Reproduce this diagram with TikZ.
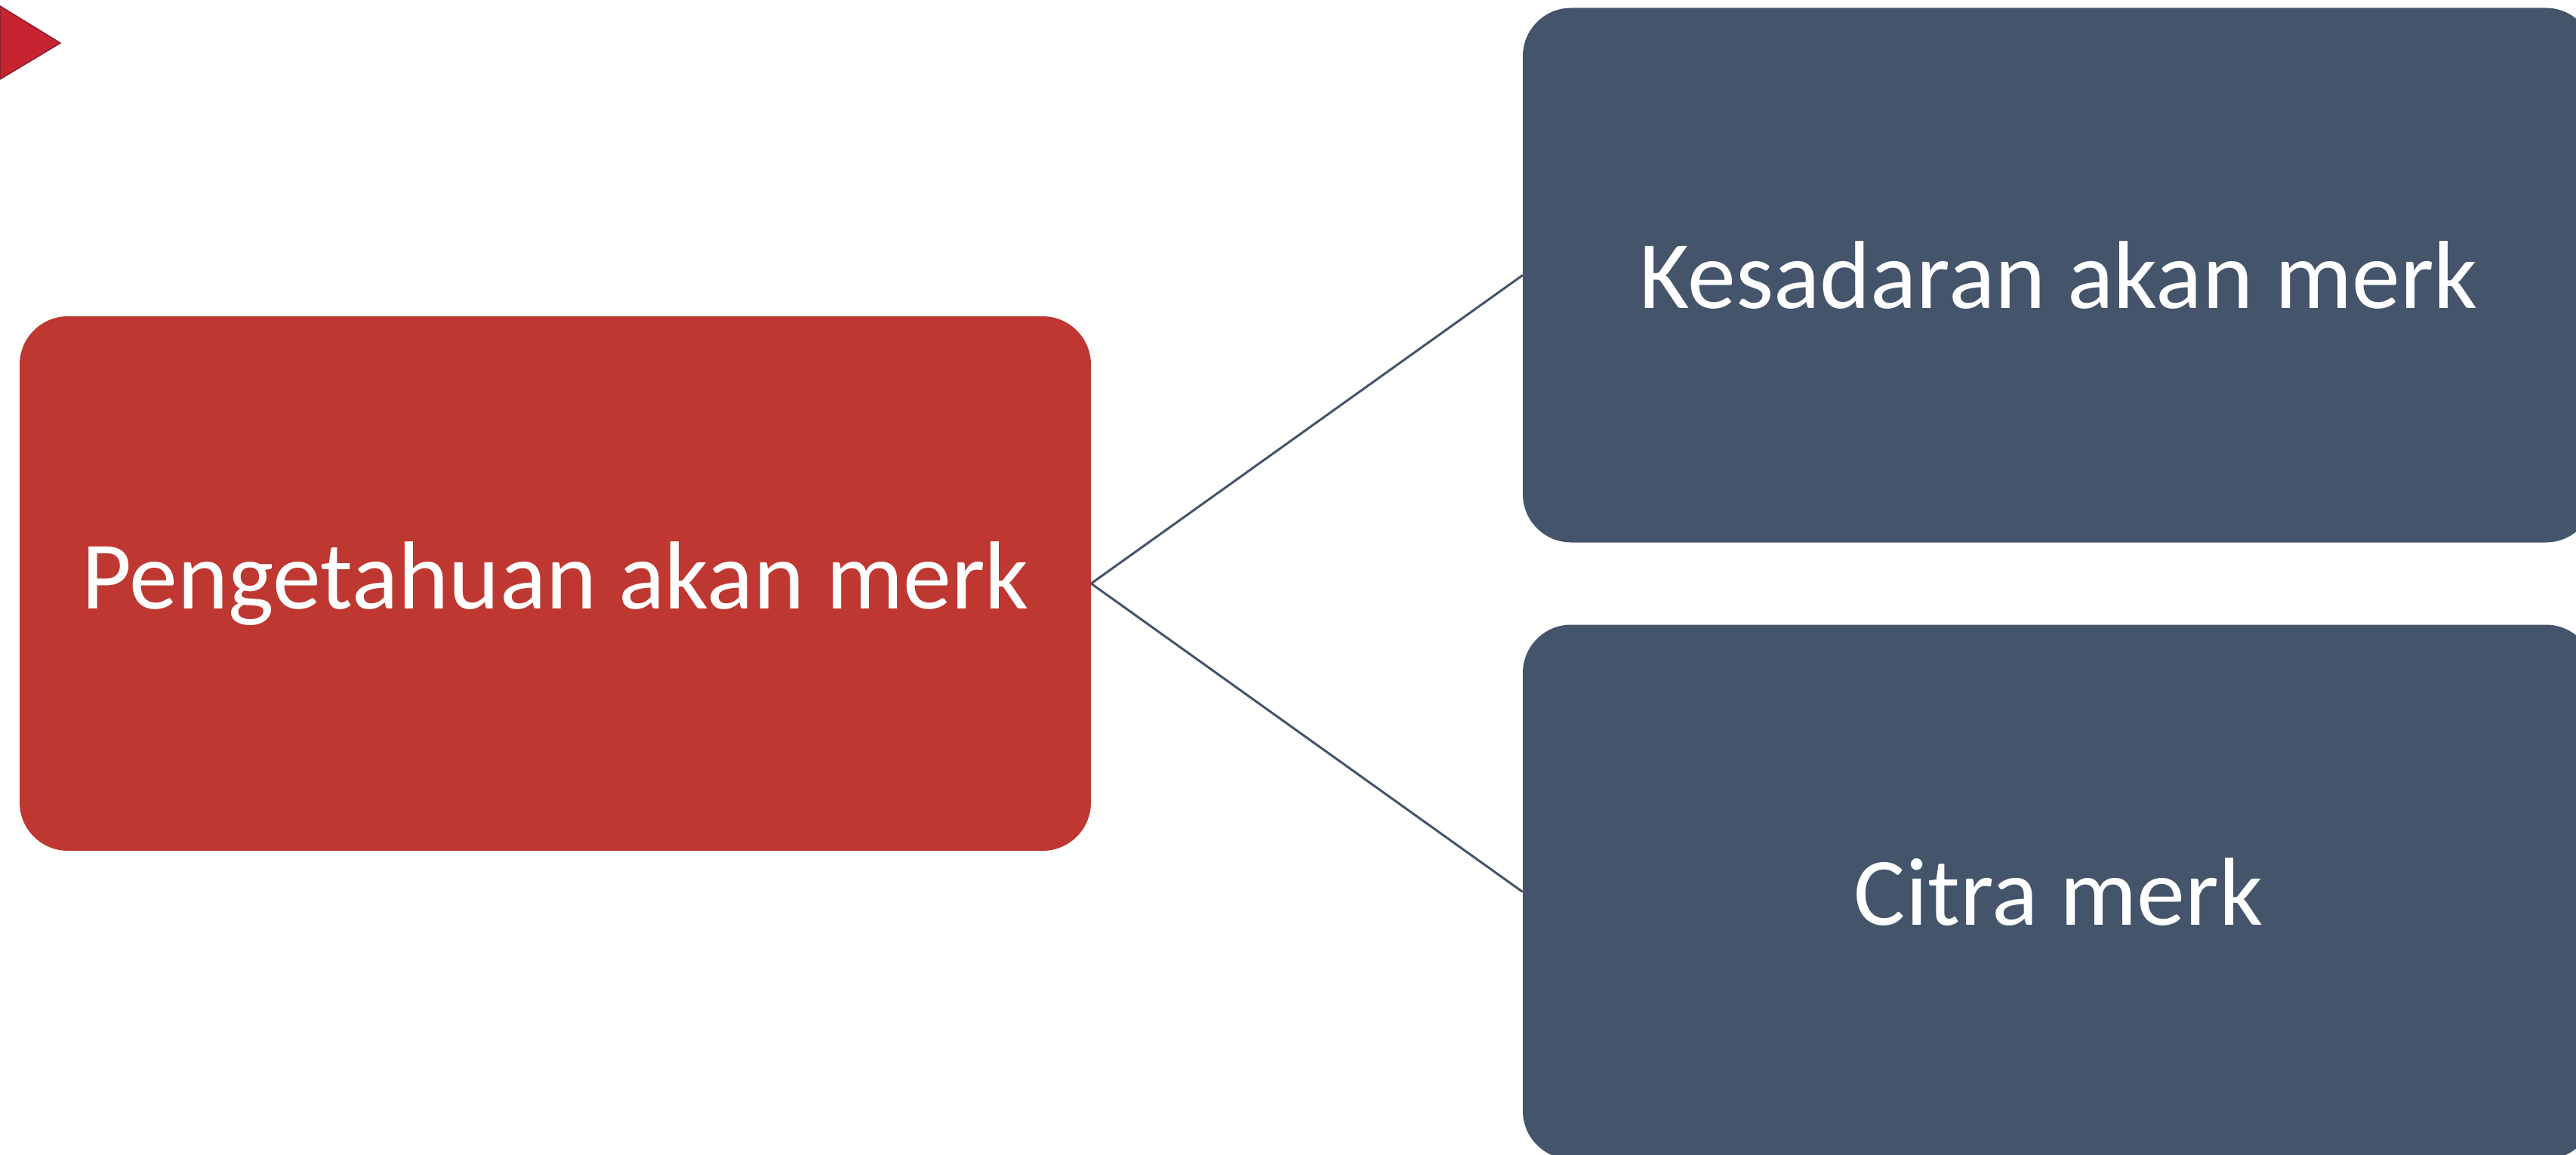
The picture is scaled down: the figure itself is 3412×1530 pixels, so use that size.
\documentclass[tikz,border=0pt]{standalone}
\usepackage{fontspec}
\setmainfont{Carlito}
\definecolor{boxred}{RGB}{190,56,49}
\definecolor{boxblue}{RGB}{68,84,106}
\definecolor{trired}{RGB}{200,35,48}
\definecolor{triedge}{RGB}{140,30,50}
\begin{document}
\begin{tikzpicture}[x=1pt,y=-1pt,
  box/.style={rounded corners=64pt, minimum width=1419pt, minimum height=708pt,
    inner sep=0pt, text=white, font=\fontsize{128}{154}\selectfont},
  link/.style={draw=boxblue, line width=3pt}]
\useasboundingbox (0,0) rectangle (3412,1530);
\clip (0,0) rectangle (3412,1530);
\fill[trired, draw=triedge, line width=1.5pt] (0,8) -- (80,57) -- (0,105) -- cycle;
\node[box, fill=boxred] (know) at (735.5,773) {Pengetahuan akan merk};
\node[box, fill=boxblue] (aware) at (2726.5,364.5) {Kesadaran akan merk};
\node[box, fill=boxblue] (image) at (2726.5,1181.5) {Citra merk};
\draw[link] (know.east) -- (aware.west);
\draw[link] (know.east) -- (image.west);
\end{tikzpicture}
\end{document}
